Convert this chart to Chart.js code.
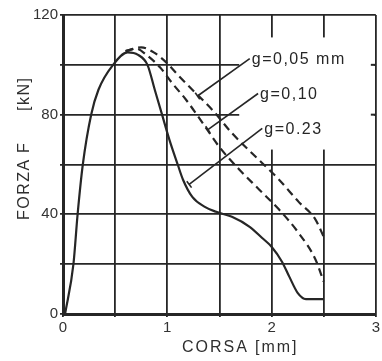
<!DOCTYPE html>
<html>
<head>
<meta charset="utf-8">
<script src="https://cdn.jsdelivr.net/npm/chart.js@4.4.1/dist/chart.umd.min.js"></script>
<style>
  html, body { margin: 0; padding: 0; background: #fff; }
</style>
</head>
<body>
<canvas id="grafico" width="382" height="361"></canvas>
<script>
// curva g = 0.23 (linea continua)
const corsa023 = [0.02, 0.10, 0.14, 0.19, 0.27, 0.34, 0.48, 0.62, 0.72, 0.81, 0.88, 0.95, 1.02, 1.10, 1.15, 1.24, 1.36, 1.47, 1.62, 1.79, 1.91, 2.00, 2.10, 2.17, 2.25, 2.33, 2.50];
const forza023 = [0, 20, 40, 60, 80, 90, 100, 105, 104, 100, 90, 80, 70, 60, 54, 47, 43, 41, 39, 35, 30.5, 27, 21, 15, 8.5, 6, 6];

// curva g = 0.10 (tratteggio interno)
const corsa010 = [0.60, 0.70, 0.80, 0.93, 1.05, 1.18, 1.34, 1.50, 1.69, 1.88, 2.07, 2.26, 2.42, 2.50];
const forza010 = [105.5, 106.5, 104, 99, 92.5, 86, 76.6, 67, 58, 50, 42, 32.5, 22, 13];

// curva g = 0.05 (tratteggio esterno)
const corsa005 = [0.60, 0.75, 0.87, 0.99, 1.10, 1.24, 1.43, 1.62, 1.85, 2.07, 2.26, 2.42, 2.50];
const forza005 = [105.5, 107, 105, 101, 96, 90, 82, 72.6, 63, 54, 45, 38, 31];

const etichette = ['g=0,05 mm', 'g=0,10', 'g=0.23'];
// inizio testo e punto sulla curva per le linee di richiamo [x, y]
const posTesto = [[1.81, 102.5], [1.89, 88.5], [1.93, 74.5]];
const puntaRichiamo = [[1.29, 87.5], [1.39, 74], [1.21, 52]];

const tickX = [0, 1, 2, 3];
const tickY = [0, 40, 80, 120];

const nero = '#262626';

function punti(xs, ys) {
    return xs.map((x, i) => ({ x: x, y: ys[i] }));
}

const pluginDisegno = {
    id: 'disegno',
    beforeDatasetsDraw(chart) {
        const ctx = chart.ctx;
        const sx = chart.scales.x, sy = chart.scales.y;
        const area = chart.chartArea;
        // zona delle etichette senza griglia
        ctx.save();
        ctx.fillStyle = '#fff';
        const x0 = sx.getPixelForValue(1.69);
        const y0 = sy.getPixelForValue(111);
        const y1 = sy.getPixelForValue(66);
        ctx.fillRect(x0, y0, area.right - 2 - x0, y1 - y0);
        ctx.strokeStyle = nero;
        ctx.lineWidth = 2;
        [100, 80].forEach(v => {
            const py = sy.getPixelForValue(v);
            ctx.beginPath();
            ctx.moveTo(area.right - 5, py);
            ctx.lineTo(area.right, py);
            ctx.stroke();
        });
        ctx.restore();
    },
    afterDatasetsDraw(chart) {
        const ctx = chart.ctx;
        const sx = chart.scales.x, sy = chart.scales.y;
        ctx.save();
        ctx.strokeStyle = nero;
        ctx.fillStyle = nero;
        ctx.lineWidth = 1.6;
        ctx.font = '16px "Liberation Sans", Arial, sans-serif';
        ctx.letterSpacing = '1.5px';
        ctx.textBaseline = 'middle';
        etichette.forEach((t, i) => {
            const tx = sx.getPixelForValue(posTesto[i][0]);
            const ty = sy.getPixelForValue(posTesto[i][1]);
            const px = sx.getPixelForValue(puntaRichiamo[i][0]);
            const py = sy.getPixelForValue(puntaRichiamo[i][1]);
            ctx.beginPath();
            ctx.moveTo(tx - 2, ty);
            ctx.lineTo(px, py);
            ctx.stroke();
            // piccolo trattino in punta
            const dx = px - tx, dy = py - ty, l = Math.hypot(dx, dy);
            const nx = -dy / l * 4, ny = dx / l * 4;
            ctx.beginPath();
            ctx.moveTo(px + nx, py + ny);
            ctx.lineTo(px - nx, py - ny);
            ctx.stroke();
            ctx.fillText(t, tx, ty + 1);
        });

        // titoli degli assi
        ctx.fillStyle = '#2e2e2e';
        ctx.letterSpacing = '2px';
        ctx.textAlign = 'left';
        ctx.fillText('CORSA', 182, 348);
        ctx.fillText('[mm]', 255, 348);
        ctx.translate(25, 0);
        ctx.rotate(-Math.PI / 2);
        ctx.letterSpacing = '1.5px';
        ctx.fillText('FORZA', -220, 0);
        ctx.fillText('F', -153, 0);
        ctx.fillText('[kN]', -111, 0);
        ctx.restore();
    }
};

new Chart(document.getElementById('grafico'), {
    type: 'line',
    data: {
        datasets: [
            {
                label: etichette[2],
                data: punti(corsa023, forza023),
                borderColor: nero,
                borderWidth: 2.2
            },
            {
                label: etichette[1],
                data: punti(corsa010, forza010),
                borderColor: nero,
                borderWidth: 2.2,
                borderDash: [8, 5]
            },
            {
                label: etichette[0],
                data: punti(corsa005, forza005),
                borderColor: nero,
                borderWidth: 2.2,
                borderDash: [8, 5]
            }
        ]
    },
    options: {
        responsive: false,
        animation: false,
        devicePixelRatio: 1,
        elements: {
            point: { radius: 0 },
            line: { cubicInterpolationMode: 'monotone', fill: false }
        },
        layout: { padding: { top: 15, right: 5, left: 0, bottom: 0 } },
        plugins: {
            legend: { display: false },
            tooltip: { enabled: false }
        },
        scales: {
            x: {
                type: 'linear',
                min: 0,
                max: 3,
                afterFit: s => { s.height = 47; },
                ticks: {
                    stepSize: 0.5,
                    autoSkip: false,
                    maxRotation: 0,
                    padding: 2,
                    color: '#333',
                    font: { size: 15, family: '"Liberation Sans", Arial, sans-serif' },
                    callback: v => tickX.includes(v) ? String(v) : ''
                },
                grid: { color: nero, lineWidth: 1.8, tickLength: 3 },
                border: { color: nero, width: 3 }
            },
            y: {
                min: 0,
                max: 120,
                afterFit: s => { s.width = 63; },
                ticks: {
                    stepSize: 20,
                    autoSkip: false,
                    padding: 2,
                    color: '#333',
                    font: { size: 15, family: '"Liberation Sans", Arial, sans-serif' },
                    callback: v => tickY.includes(v) ? String(v) : ''
                },
                grid: { color: nero, lineWidth: 1.8, tickLength: 3 },
                border: { color: nero, width: 3 }
            }
        }
    },
    plugins: [pluginDisegno]
});
</script>
</body>
</html>
